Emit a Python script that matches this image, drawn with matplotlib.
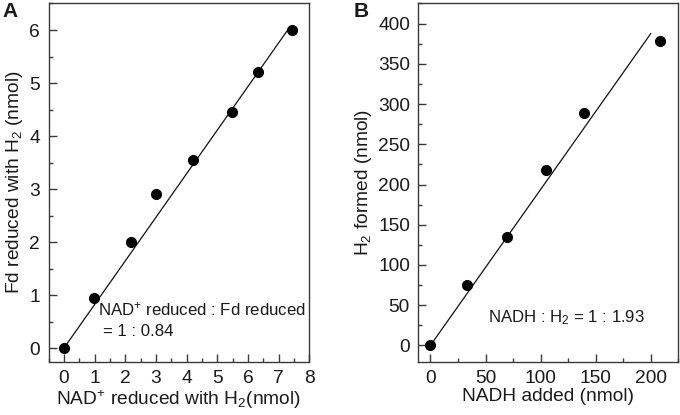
import matplotlib
matplotlib.use("Agg")
import matplotlib.pyplot as plt
from matplotlib.ticker import MultipleLocator

plt.rcParams['font.family'] = ['Liberation Sans', 'DejaVu Sans']
plt.rcParams['mathtext.fontset'] = 'custom'
plt.rcParams['mathtext.rm'] = 'Liberation Sans'
plt.rcParams['mathtext.it'] = 'Liberation Sans:italic'
plt.rcParams['mathtext.bf'] = 'Liberation Sans:bold'

# Panel A data
nad_reduced = [0.0, 0.99, 2.18, 3.0, 4.2, 5.49, 6.32, 7.44]
fd_reduced = [0.0, 0.94, 2.0, 2.9, 3.55, 4.45, 5.2, 6.0]
fit_a_x = [0.0, 7.32]
fit_a_y = [0.0, 6.02]

# Panel B data
nadh_added = [0.0, 33.4, 69.8, 104.7, 139.0, 208.0]
h2_formed = [0.0, 75.4, 134.3, 218.0, 289.3, 378.0]
fit_b_x = [0.0, 200.0]
fit_b_y = [0.0, 387.6]

TXT = '#1a1a1a'
SP = '#3a3a3a'
FS = 13.8
AFS = 12.1

fig = plt.figure(figsize=(6.8, 4.15), dpi=100)
W, H = 680, 415

def make_ax(l, r, t, b):
    return fig.add_axes([l / W, (H - b) / H, (r - l) / W, (b - t) / H])

axA = make_ax(48.5, 309.3, 3.5, 361.5)
axB = make_ax(418.3, 678.3, 3.5, 361.5)

def style(ax):
    for s in ax.spines.values():
        s.set_color(SP)
        s.set_linewidth(1.0)
    ax.tick_params(which='both', direction='in', top=False, right=False,
                   color=SP, labelcolor=TXT, labelsize=FS, pad=6, width=1.0)
    ax.tick_params(which='major', length=5.5)
    ax.tick_params(which='minor', length=3)

# Panel A
axA.plot(fit_a_x, fit_a_y, color='#111111', lw=0.9)
axA.plot(nad_reduced, fd_reduced, 'o', color='#000000', ms=7)
axA.set_xlim(-0.5, 8)
axA.set_ylim(-0.25, 6.5)
axA.xaxis.set_major_locator(MultipleLocator(1))
axA.xaxis.set_minor_locator(MultipleLocator(0.5))
axA.yaxis.set_major_locator(MultipleLocator(1))
axA.yaxis.set_minor_locator(MultipleLocator(0.5))
style(axA)
axA.set_xlabel(r'NAD$^{\mathrm{+}}$ reduced with H$_{\mathrm{2}}$(nmol)', fontsize=FS, color=TXT, labelpad=1)
axA.set_ylabel(r'Fd reduced with H$_{\mathrm{2}}$ (nmol)', fontsize=FS, color=TXT, labelpad=3)
axA.text(1.12, 0.62, r'NAD$^{\mathrm{+}}$ reduced : Fd reduced', fontsize=AFS, color=TXT, va='baseline')
axA.text(1.27, 0.23, '= 1 : 0.84', fontsize=AFS, color=TXT, va='baseline')

# Panel B
axB.plot(fit_b_x, fit_b_y, color='#111111', lw=0.9)
axB.plot(nadh_added, h2_formed, 'o', color='#000000', ms=7)
axB.set_xlim(-11, 225)
axB.set_ylim(-20, 425)
axB.xaxis.set_major_locator(MultipleLocator(50))
axB.xaxis.set_minor_locator(MultipleLocator(25))
axB.yaxis.set_major_locator(MultipleLocator(50))
axB.yaxis.set_minor_locator(MultipleLocator(25))
style(axB)
axB.set_xlabel('NADH added (nmol)', fontsize=FS, color=TXT, labelpad=1)
axB.set_ylabel(r'H$_{\mathrm{2}}$ formed (nmol)', fontsize=FS, color=TXT, labelpad=3)
axB.text(52, 29, r'NADH : H$_{\mathrm{2}}$ = 1 : 1.93', fontsize=AFS, color=TXT, va='baseline')

fig.text(2 / W, 1 - 17 / H, 'A', fontsize=15, fontweight='bold', color=TXT, va='baseline')
fig.text(354 / W, 1 - 17 / H, 'B', fontsize=15, fontweight='bold', color=TXT, va='baseline')

fig.savefig('out.png', dpi=100)
